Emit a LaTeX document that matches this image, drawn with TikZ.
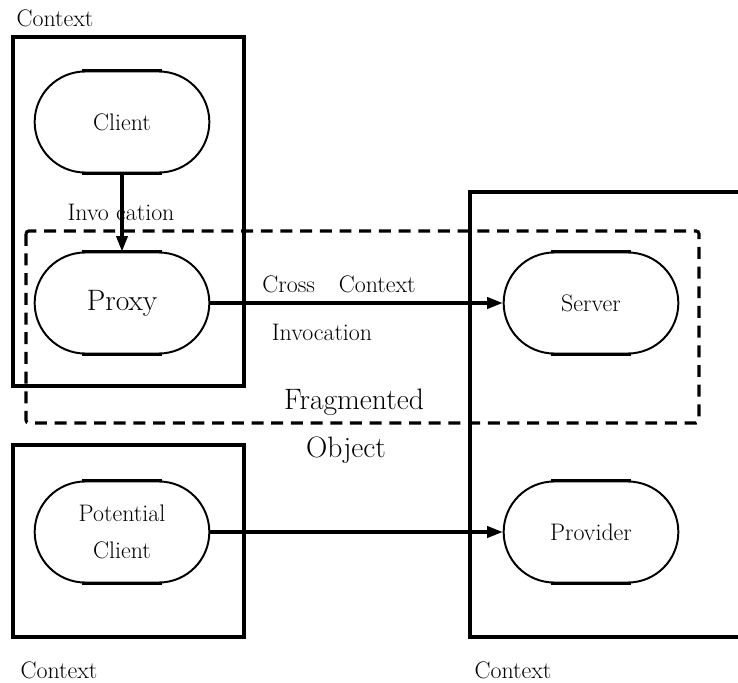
\documentclass[tikz,border=0pt]{standalone}
\usetikzlibrary{arrows.meta,shapes.misc}
\begin{document}
\begin{tikzpicture}[x=0.025cm,y=-0.025cm,
  ctx/.style={line width=2.4pt},
  frag/.style={line width=2.2pt,dash pattern=on 8.5pt off 5.5pt,rounded corners=2pt},
  obj/.style={draw,rounded rectangle,line width=1.4pt,minimum width=4.6cm,minimum height=2.525cm,
    align=center,font=\fontsize{17}{26}\selectfont},
  flat/.style={line width=2.4pt},
  call/.style={line width=2.2pt,-{Triangle[length=11pt,width=8pt]}},
  txt/.style={font=\fontsize{17}{20}\selectfont},
  bigtxt/.style={font=\fontsize{21}{25}\selectfont}]
\useasboundingbox (0,0) rectangle (738,683);

% Kontexte
\draw[ctx] (13,37) rectangle (244,386);
\draw[ctx] (13,445) rectangle (244,637);
\draw[ctx] (738,192) -- (470,192) -- (470,637) -- (738,637);
\node[txt] (ctxa) at (55,18) {Context};
\node[txt] (ctxb) at (59,670) {Context};
\node[txt] (ctxc) at (513,670) {Context};

% Fragmentiertes Objekt
\draw[frag] (26,231) rectangle (699,423);
\node[bigtxt] (fragm) at (354,402) {Fragmented};
\node[bigtxt] (fobj) at (346,450) {Object};

% Objekte
\node[obj] (client) at (122,122) {Client};
\node[obj,font=\fontsize{21}{25}\selectfont] (proxy) at (122,303) {Proxy};
\node[obj] (server) at (591,303) {Server};
\node[obj] (pclient) at (122,532) {Potential\\Client};
\node[obj] (provider) at (591,532) {Provider};
\foreach \n in {client,proxy,server,pclient,provider} {
  \draw[flat] ([xshift=-1cm]\n.north) -- ([xshift=1cm]\n.north);
  \draw[flat] ([xshift=-1cm]\n.south) -- ([xshift=1cm]\n.south);
}

% Aufrufe
\node[txt] (inv) at (121,212) {Invo cation};
\node[txt] (cross) at (339,284) {Cross\quad Context};
\node[txt] (crossinv) at (322,332) {Invocation};
\draw[call] (client.south) -- (proxy.north);
\draw[call] (proxy.east) -- (server.west);
\draw[call] (pclient.east) -- (provider.west);
\end{tikzpicture}
\end{document}
